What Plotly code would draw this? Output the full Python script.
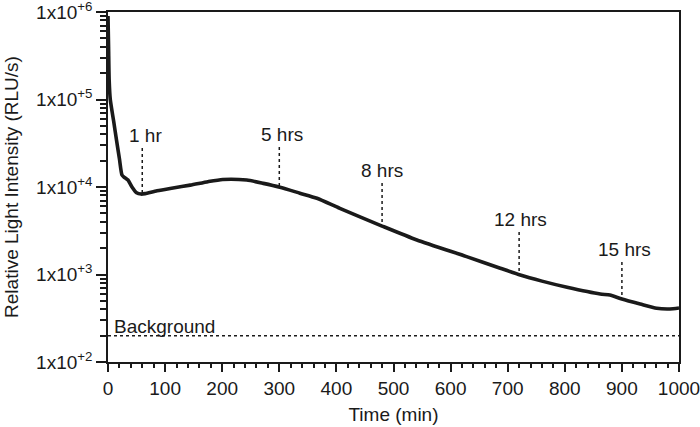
import numpy as np
import plotly.graph_objects as go

# ---- data ----
time_min = [0, 1, 2, 4, 10, 15, 20, 24.5, 28, 35, 42, 50, 58, 65, 86, 114, 144, 175, 201, 243, 272, 301,
            336, 366, 406, 480, 541, 628, 687, 722, 760, 804, 862, 879, 900, 932, 961, 984, 1000]
rlu = [900000, 400000, 170000, 100000, 56000, 34000, 21000, 13700, 13000, 12000, 10000, 8600, 8300, 8400,
       9060, 9750, 10500, 11500, 12200, 12000, 11000, 9930,
       8500, 7430, 5700, 3580, 2480, 1600, 1180, 986, 840, 714, 598, 583, 525, 460, 411, 404, 414]

marker_times = [60, 300, 480, 720, 900]
marker_tops = [27900, 28600, 11100, 3060, 1390]
marker_labels = ["1 hr", "5 hrs", "8 hrs", "12 hrs", "15 hrs"]
label_x = [66, 304, 480, 723, 904]

background_level = 200
background_label = "Background"

y_tickvals = [1e2, 1e3, 1e4, 1e5, 1e6]
y_ticktext = ["1x10<sup>+2</sup>", "1x10<sup>+3</sup>", "1x10<sup>+4</sup>",
              "1x10<sup>+5</sup>", "1x10<sup>+6</sup>"]

FONT = "Liberation Sans, Arial, Helvetica, sans-serif"
INK = "#1a1a1a"
FS = 19

fig = go.Figure()

# background dotted line
fig.add_trace(go.Scatter(x=[0, 1000], y=[background_level, background_level], mode="lines",
                         line=dict(color=INK, width=1.5, dash="dot"), hoverinfo="skip"))

# marker dotted lines (from label down to the curve)
log_rlu = np.log10(rlu)
for t, top in zip(marker_times, marker_tops):
    bottom = 10 ** np.interp(t, time_min, log_rlu)
    fig.add_trace(go.Scatter(x=[t, t], y=[top, bottom], mode="lines",
                             line=dict(color=INK, width=1.5, dash="dot"), hoverinfo="skip"))

# main curve
fig.add_trace(go.Scatter(x=time_min, y=rlu, mode="lines",
                         line=dict(color=INK, width=3.6, shape="spline", smoothing=0.6)))

for lx, top, lab in zip(label_x, marker_tops, marker_labels):
    fig.add_annotation(x=lx, y=np.log10(top), text=lab, showarrow=False,
                       xanchor="center", yanchor="bottom", yshift=0,
                       font=dict(family=FONT, size=FS, color=INK))

fig.add_annotation(x=7, y=np.log10(background_level), text=background_label, showarrow=False,
                   xanchor="left", yanchor="bottom", yshift=-3,
                   font=dict(family=FONT, size=FS, color=INK))

minor_y = [m * 10 ** e for e in range(2, 6) for m in range(2, 10)]

fig.update_layout(
    width=700, height=427,
    margin=dict(l=108, r=21, t=12, b=65),
    paper_bgcolor="white", plot_bgcolor="white",
    showlegend=False,
    font=dict(family=FONT, size=FS, color=INK),
    xaxis=dict(range=[0, 1000], tickmode="linear", tick0=0, dtick=100,
               ticks="outside", ticklen=8, tickwidth=1.5, tickcolor=INK,
               showline=True, linecolor=INK, linewidth=1.5, mirror=True,
               showgrid=False, zeroline=False, automargin=False, ticklabeloverflow="allow",
               minor=dict(dtick=20, ticks="outside", ticklen=4, tickwidth=1.5, tickcolor=INK, showgrid=False),
               title=dict(text="Time (min)", font=dict(size=FS), standoff=10),
               tickfont=dict(size=FS)),
    yaxis=dict(type="log", range=[2, 6], tickmode="array", tickvals=y_tickvals, ticktext=y_ticktext,
               ticks="outside", ticklen=10, tickwidth=1.5, tickcolor=INK,
               showline=True, linecolor=INK, linewidth=1.5, mirror=True,
               showgrid=False, zeroline=False, automargin=False, ticklabeloverflow="allow",
               minor=dict(tickvals=minor_y, ticks="outside", ticklen=6, tickwidth=1.5, tickcolor=INK, showgrid=False),
               title=dict(text="Relative Light Intensity (RLU/s)", font=dict(size=FS), standoff=12),
               tickfont=dict(size=FS)),
)

fig.write_html("out.html", config={"displayModeBar": False},
               post_script="document.body.style.margin='0';document.body.style.overflow='hidden';")
